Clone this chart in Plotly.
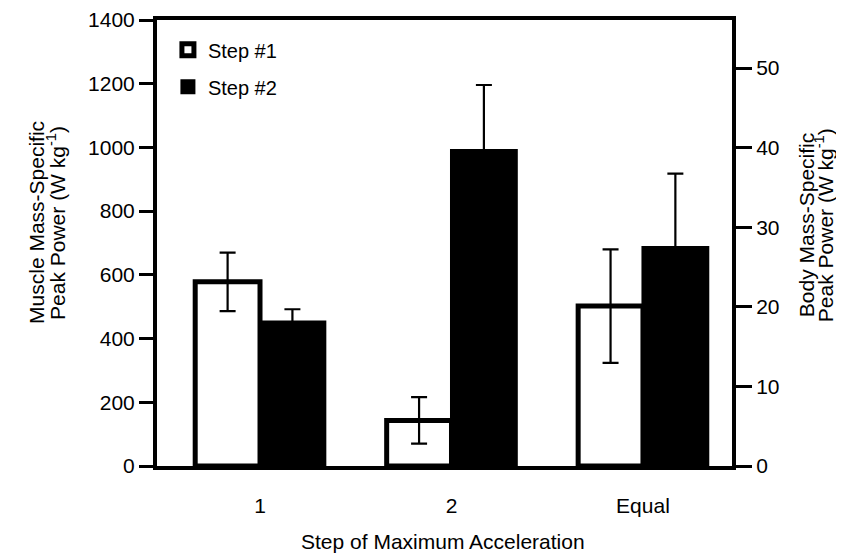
import plotly.graph_objects as go

categories = ["1", "2", "Equal"]
x_pos = [0, 1, 2]
step1_mean = [578, 143, 502]
step1_err = [92, 73, 178]
step2_mean = [452, 990, 686]
step2_err = [40, 206, 232]
left_ticks = [0, 200, 400, 600, 800, 1000, 1200, 1400]
right_ticks = [0, 10, 20, 30, 40, 50]
left_title = ["Muscle Mass-Specific", "Peak Power (W kg<sup>-1</sup>)"]
right_title = ["Body Mass-Specific", "Peak Power (W kg<sup>-1</sup>)"]
x_title = "Step of Maximum Acceleration"

FONT = "Liberation Sans, Arial, sans-serif"

fig = go.Figure()
fig.add_trace(go.Bar(
    x=x_pos, y=step1_mean, name="Step #1", legendgroup="a",
    marker=dict(color="white", line=dict(color="black", width=5)),
    error_y=dict(type="data", array=step1_err, color="black", thickness=2.2, width=8),
))
fig.add_trace(go.Bar(
    x=x_pos, y=step2_mean, name="Step #2", legendgroup="b",
    marker=dict(color="black", line=dict(color="black", width=3)),
    error_y=dict(type="data", array=step2_err, color="black", thickness=2.2, width=8),
))
fig.add_trace(go.Scatter(
    x=[0], y=[0], yaxis="y2", mode="markers", marker=dict(opacity=0),
    showlegend=False, hoverinfo="skip",
))

annotations = []
for txt, shift in zip(left_title, [-120, -101]):
    annotations.append(dict(text=txt, xref="paper", yref="paper", x=0, y=0.545,
                            xshift=shift, xanchor="center", yanchor="middle",
                            textangle=-90, showarrow=False, font=dict(size=21)))
for txt, shift in zip(right_title, [74, 92]):
    annotations.append(dict(text=txt, xref="paper", yref="paper", x=1, y=0.54,
                            xshift=shift, xanchor="center", yanchor="middle",
                            textangle=-90, showarrow=False, font=dict(size=21)))
annotations.append(dict(text=x_title, xref="paper", yref="paper", x=0.5, y=0,
                        xshift=-2, yshift=-75, xanchor="center", yanchor="middle",
                        showarrow=False, font=dict(size=21)))

fig.update_layout(
    width=844, height=556,
    margin=dict(l=149, r=120, t=12, b=98),
    paper_bgcolor="white", plot_bgcolor="white",
    font=dict(family=FONT, size=21, color="black"),
    barmode="group", bargap=0.323, bargroupgap=0,
    showlegend=True,
    legend=dict(x=0.019, y=0.977, xanchor="left", yanchor="top",
                font=dict(size=20), traceorder="grouped", tracegroupgap=8,
                bgcolor="rgba(0,0,0,0)"),
    annotations=annotations,
    xaxis=dict(
        range=[-0.538, 2.465], tickvals=x_pos, ticktext=categories,
        showline=True, linewidth=4, linecolor="black", mirror=True,
        ticks="", showgrid=False, zeroline=False, ticklabelstandoff=18,
        automargin=False,
    ),
    yaxis=dict(
        range=[0, 1400], tickvals=left_ticks,
        showline=True, linewidth=4, linecolor="black", mirror=True,
        ticks="outside", ticklen=14, tickwidth=3, tickcolor="black",
        showgrid=False, zeroline=False, automargin=False,
    ),
    yaxis2=dict(
        overlaying="y", side="right", range=[0, 56.03], tickvals=right_ticks,
        showline=True, linewidth=4, linecolor="black",
        ticks="outside", ticklen=16, tickwidth=3, tickcolor="black",
        showgrid=False, zeroline=False, automargin=False,
    ),
)

fig.write_html("out.html")
